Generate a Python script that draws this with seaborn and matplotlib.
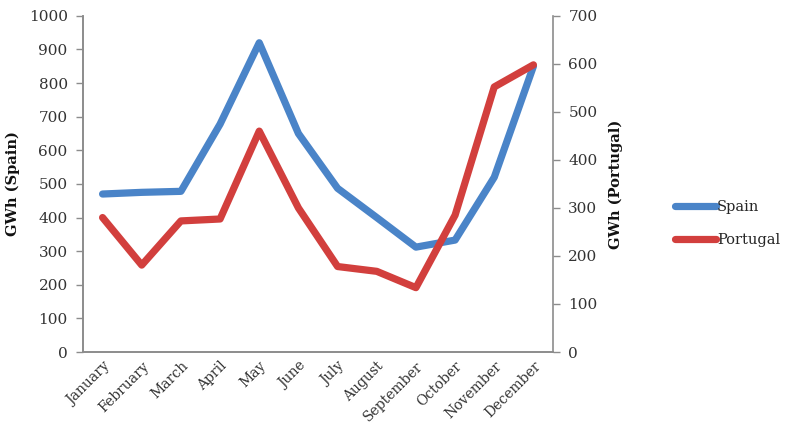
import matplotlib
matplotlib.use("Agg")
import matplotlib.pyplot as plt
import seaborn as sns
import pandas as pd

months = ["January", "February", "March", "April", "May", "June", "July",
          "August", "September", "October", "November", "December"]
spain = [470, 475, 478, 678, 920, 650, 487, 400, 312, 333, 520, 850]
portugal = [280, 181, 273, 277, 460, 300, 178, 168, 134, 285, 552, 598]

left_ticks = [0, 100, 200, 300, 400, 500, 600, 700, 800, 900, 1000]
right_ticks = [0, 100, 200, 300, 400, 500, 600, 700]

sns.set_theme(style="white")
plt.rcParams["font.family"] = ["DejaVu Serif", "Liberation Serif"]

df = pd.DataFrame({"idx": range(len(months)), "Month": months,
                   "Spain": spain, "Portugal": portugal})

blue = "#4A84C8"
red = "#D23F3D"
grey = "#8C8C8C"
txt = "#333333"

fig = plt.figure(figsize=(7.98, 4.47), dpi=100)
ax = fig.add_axes([0.104, 0.2125, 0.589, 0.752])
ax2 = ax.twinx()

sns.lineplot(data=df, x="idx", y="Spain", ax=ax, color=blue, linewidth=5.2,
             solid_joinstyle="round", solid_capstyle="round", legend=False)
sns.lineplot(data=df, x="idx", y="Portugal", ax=ax2, color=red, linewidth=5.2,
             solid_joinstyle="round", solid_capstyle="round", legend=False)

ax.set_xlim(-0.5, len(months) - 0.5)
ax.set_ylim(0, 1000)
ax2.set_ylim(0, 700)
ax.set_yticks(left_ticks)
ax2.set_yticks(right_ticks)
ax.set_xticks(range(len(months)))
ax.set_xticklabels(months, rotation=45, ha="right", rotation_mode="anchor",
                   fontsize=10, color=txt)
ax.tick_params(axis="x", length=0, pad=5)
ax.tick_params(axis="y", length=5, width=1, color=grey, labelsize=11,
               labelcolor=txt, direction="out", left=True, pad=6)
ax2.tick_params(axis="y", length=5, width=1, color=grey, labelsize=11,
                labelcolor=txt, direction="out", right=True, pad=6)

for a in (ax, ax2):
    a.spines["top"].set_visible(False)
    for s in ("left", "right", "bottom"):
        a.spines[s].set_color(grey)
        a.spines[s].set_linewidth(1.2)
ax.spines["right"].set_visible(False)

ax.set_xlabel("")
ax.set_ylabel("GWh (Spain)", fontsize=10.5, fontweight="bold", labelpad=6,
              color="#111111")
ax2.set_ylabel("GWh (Portugal)", fontsize=10.5, fontweight="bold", labelpad=8,
               color="#111111")

handles = [plt.Line2D([], [], color=blue, linewidth=5.2, solid_capstyle="round"),
           plt.Line2D([], [], color=red, linewidth=5.2, solid_capstyle="round")]
fig.legend(handles, ["Spain", "Portugal"], loc="center left",
           bbox_to_anchor=(0.83, 0.50), frameon=False, fontsize=10.5,
           handlelength=2.8, handletextpad=0.05, labelspacing=1.3)

fig.savefig("out.png", dpi=100)
